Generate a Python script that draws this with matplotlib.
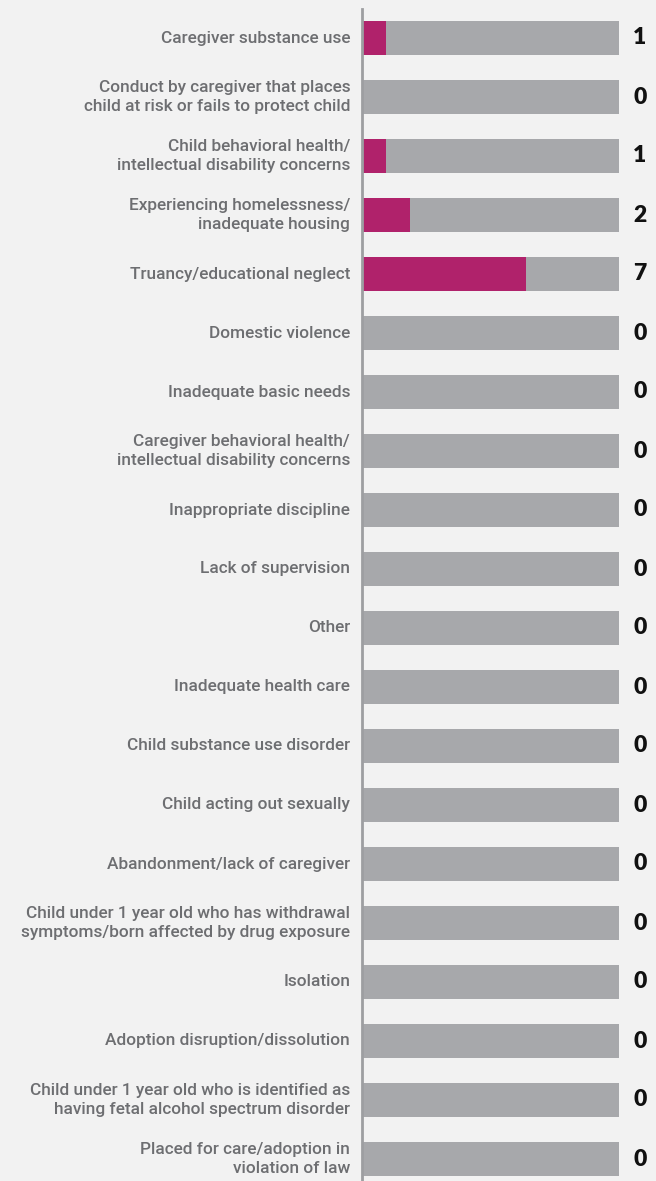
import matplotlib.pyplot as plt

categories = [
    "Caregiver substance use",
    "Conduct by caregiver that places\nchild at risk or fails to protect child",
    "Child behavioral health/\nintellectual disability concerns",
    "Experiencing homelessness/\ninadequate housing",
    "Truancy/educational neglect",
    "Domestic violence",
    "Inadequate basic needs",
    "Caregiver behavioral health/\nintellectual disability concerns",
    "Inappropriate discipline",
    "Lack of supervision",
    "Other",
    "Inadequate health care",
    "Child substance use disorder",
    "Child acting out sexually",
    "Abandonment/lack of caregiver",
    "Child under 1 year old who has withdrawal\nsymptoms/born affected by drug exposure",
    "Isolation",
    "Adoption disruption/dissolution",
    "Child under 1 year old who is identified as\nhaving fetal alcohol spectrum disorder",
    "Placed for care/adoption in\nviolation of law",
]
values = [1, 0, 1, 2, 7, 0, 0, 0, 0, 0, 0, 0, 0, 0, 0, 0, 0, 0, 0, 0]
scale_max = 11

BG = "#f2f2f2"
GRAY = "#a7a8ab"
MAGENTA = "#b0226b"
TEXT = "#6d6e71"

fig = plt.figure(figsize=(6.56, 11.81), dpi=100, facecolor=BG)
ax = fig.add_axes([363 / 656, 1 - 1188.5 / 1181, 256 / 656, 1180 / 1181])
ax.set_facecolor(BG)

pos = list(range(len(categories)))
ax.barh(pos, [scale_max] * len(pos), height=0.58, color=GRAY, left=0)
ax.barh(pos, values, height=0.58, color=MAGENTA, left=0)

ax.set_xlim(0, scale_max)
ax.set_ylim(len(pos) - 0.5, -0.5)

for y, (lab, v) in enumerate(zip(categories, values)):
    ax.text(-0.55, y, lab, ha="right", va="center", fontsize=12.4,
            color=TEXT, family="Roboto", fontweight="medium",
            linespacing=1.28)
    ax.text(scale_max + 0.9, y, str(v), ha="center", va="center",
            fontsize=16.5, fontweight="heavy", color="#111111", family="Lato")

for s in ["top", "right", "bottom"]:
    ax.spines[s].set_visible(False)
ax.spines["left"].set_color("#9d9ea1")
ax.spines["left"].set_linewidth(2)
ax.spines["left"].set_position(("data", -0.04))
ax.set_xticks([])
ax.set_yticks([])

fig.savefig("out.png", dpi=100, facecolor=BG)
